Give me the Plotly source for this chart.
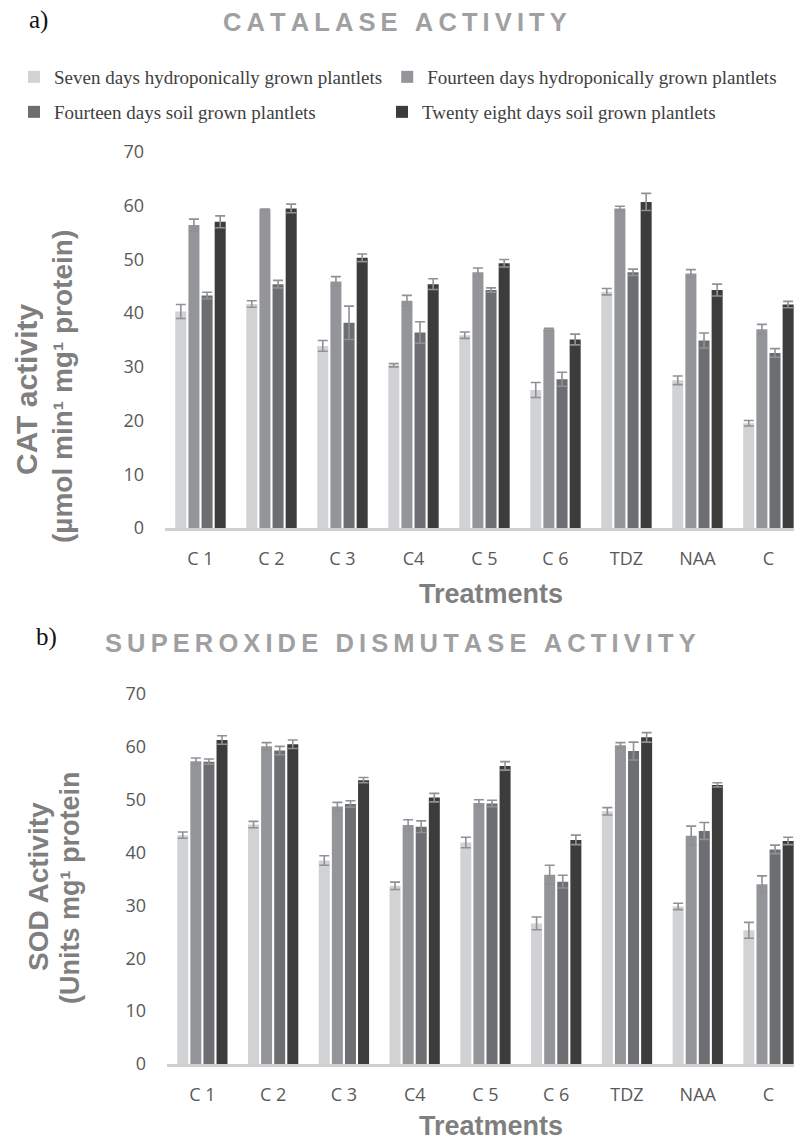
import plotly.graph_objects as go

categories = ["C 1", "C 2", "C 3", "C4", "C 5", "C 6", "TDZ", "NAA", "C"]
series_names = [
    "Seven days hydroponically grown plantlets",
    "Fourteen days hydroponically grown plantlets",
    "Fourteen days soil grown plantlets",
    "Twenty eight days soil grown plantlets",
]
colors = ["#d1d2d4", "#939598", "#6d6e71", "#3c3c3d"]

# Catalase activity (a)
cat_7d_hydro = [40.3, 41.7, 33.9, 30.3, 35.9, 25.7, 44.0, 27.5, 19.5]
cat_14d_hydro = [56.4, 59.3, 45.9, 42.3, 47.6, 37.0, 59.5, 47.4, 37.0]
cat_14d_soil = [43.3, 45.4, 38.2, 36.4, 44.3, 27.7, 47.6, 34.9, 32.6]
cat_28d_soil = [57.0, 59.5, 50.3, 45.4, 49.3, 35.1, 60.7, 44.3, 41.6]
cat_7d_hydro_err = [1.3, 0.6, 1.0, 0.3, 0.6, 1.4, 0.6, 0.8, 0.5]
cat_14d_hydro_err = [1.1, 0.1, 0.9, 1.0, 0.8, 0.2, 0.4, 0.7, 0.9]
cat_14d_soil_err = [0.6, 0.7, 3.1, 2.0, 0.4, 1.3, 0.6, 1.4, 0.8]
cat_28d_soil_err = [1.1, 0.8, 0.7, 1.0, 0.7, 1.0, 1.6, 1.1, 0.6]

# Superoxide dismutase activity (b)
sod_7d_hydro = [43.3, 45.3, 38.5, 33.7, 41.9, 26.6, 47.8, 29.8, 25.3]
sod_14d_hydro = [57.3, 60.1, 48.7, 45.2, 49.4, 35.8, 60.3, 43.2, 34.0]
sod_14d_soil = [57.2, 59.3, 49.2, 44.9, 49.3, 34.5, 59.2, 44.1, 40.6]
sod_28d_soil = [61.3, 60.5, 53.7, 50.4, 56.4, 42.4, 61.8, 52.8, 42.2]
sod_7d_hydro_err = [0.6, 0.6, 0.9, 0.7, 1.0, 1.2, 0.7, 0.6, 1.5]
sod_14d_hydro_err = [0.6, 0.7, 0.8, 1.0, 0.6, 1.8, 0.5, 1.8, 1.6]
sod_14d_soil_err = [0.5, 0.8, 0.6, 1.1, 0.6, 1.2, 1.7, 1.6, 0.8]
sod_28d_soil_err = [0.8, 0.8, 0.5, 0.8, 0.8, 0.9, 0.9, 0.4, 0.7]

y_ticks = [0, 10, 20, 30, 40, 50, 60, 70]

cat_vals = [cat_7d_hydro, cat_14d_hydro, cat_14d_soil, cat_28d_soil]
cat_errs = [cat_7d_hydro_err, cat_14d_hydro_err, cat_14d_soil_err, cat_28d_soil_err]
sod_vals = [sod_7d_hydro, sod_14d_hydro, sod_14d_soil, sod_28d_soil]
sod_errs = [sod_7d_hydro_err, sod_14d_hydro_err, sod_14d_soil_err, sod_28d_soil_err]

W, H = 794, 1140
def px_x(v):
    return v / W
def px_y(v):
    return 1 - v / H

fig = go.Figure()
for i in range(4):
    fig.add_trace(go.Bar(
        x=categories, y=cat_vals[i], name=series_names[i],
        marker=dict(color=colors[i], line=dict(width=0)),
        error_y=dict(type="data", array=cat_errs[i], color="#8f9194", thickness=1.6, width=5),
        xaxis="x", yaxis="y",
        legend="legend" if i < 2 else "legend2",
        showlegend=True,
    ))
for i in range(4):
    fig.add_trace(go.Bar(
        x=categories, y=sod_vals[i], name=series_names[i],
        marker=dict(color=colors[i], line=dict(width=0)),
        error_y=dict(type="data", array=sod_errs[i], color="#8f9194", thickness=1.6, width=5),
        xaxis="x2", yaxis="y2", showlegend=False,
    ))

tick_font_y = dict(family="Open Sans, Arial, sans-serif", size=18, color="#595959")
tick_font_x = dict(family="Liberation Sans Narrow, Arial Narrow, Open Sans, sans-serif", size=18, color="#595959")
xr = [-0.5, 8.36]

common_x = dict(type="category", range=xr, showgrid=False, zeroline=False, showline=True,
                linecolor="#d0d0d0", linewidth=3, ticks="", tickfont=tick_font_x,
                ticklabelstandoff=12, fixedrange=True, automargin=False)
common_y = dict(range=[0, 70], tickvals=y_ticks, showgrid=False, zeroline=False, showline=False,
                ticks="", tickfont=tick_font_y, ticklabelstandoff=20, fixedrange=True, automargin=False)

legend_font = dict(family="Liberation Serif, Times New Roman, serif", size=19, color="#404040")
fig.update_layout(
    width=W, height=H,
    margin=dict(l=0, r=0, t=0, b=0, autoexpand=False),
    paper_bgcolor="white", plot_bgcolor="white",
    barmode="group", bargap=0.26, bargroupgap=0.16,
    xaxis=dict(domain=[px_x(165), 1], anchor="y", **common_x),
    yaxis=dict(domain=[px_y(528), px_y(152)], anchor="x", **common_y),
    xaxis2=dict(domain=[px_x(167), 1], anchor="y2", **common_x),
    yaxis2=dict(domain=[px_y(1064), px_y(694)], anchor="x2", **common_y),
    legend=dict(orientation="h", x=px_x(14), xanchor="left", y=px_y(77), yanchor="middle",
                bgcolor="rgba(0,0,0,0)", font=legend_font,
                itemclick=False, itemdoubleclick=False),
    legend2=dict(orientation="h", x=px_x(14), xanchor="left", y=px_y(112), yanchor="middle",
                 entrywidth=323, entrywidthmode="pixels", bgcolor="rgba(0,0,0,0)",
                 font=legend_font, itemclick=False, itemdoubleclick=False),
)

title_font = dict(family="Liberation Sans, Arial, sans-serif", size=25.5, color="#a0a0a2", weight="bold")
label_font = dict(family="Liberation Serif, Times New Roman, serif", size=25, color="#111111")
axis_title_font = dict(family="Liberation Sans, Arial, sans-serif", size=27, color="#7f7f80", weight="bold")

def spaced(s):
    return "\u2009".join(list(s))

ann = [
    dict(text="a)", x=px_x(38), y=px_y(20), font=label_font),
    dict(text=spaced("CATALASE ACTIVITY"), x=px_x(395), y=px_y(22), font=title_font),
    dict(text="b)", x=px_x(46), y=px_y(637), font=label_font),
    dict(text=spaced("SUPEROXIDE DISMUTASE ACTIVITY"), x=px_x(400), y=px_y(643), font=title_font),
    dict(text="Treatments", x=px_x(491), y=px_y(594), font=axis_title_font),
    dict(text="Treatments", x=px_x(491), y=px_y(1126), font=axis_title_font),
    dict(text="CAT activity", x=px_x(27), y=px_y(390), textangle=-90,
         font=dict(family="Liberation Sans, Arial, sans-serif", size=30, color="#7f7f80", weight="bold")),
    dict(text="(µmol min¹ mg¹ protein)", x=px_x(62), y=px_y(387), textangle=-90,
         font=dict(family="Liberation Sans, Arial, sans-serif", size=28, color="#7f7f80", weight="bold")),
    dict(text="SOD Activity", x=px_x(38), y=px_y(887), textangle=-90,
         font=dict(family="Liberation Sans, Arial, sans-serif", size=28, color="#7f7f80", weight="bold")),
    dict(text="(Units mg¹ protein", x=px_x(70), y=px_y(888), textangle=-90,
         font=dict(family="Liberation Sans, Arial, sans-serif", size=27, color="#7f7f80", weight="bold")),
]
for a in ann:
    a.update(xref="paper", yref="paper", showarrow=False, xanchor="center", yanchor="middle")
fig.update_layout(annotations=ann)

fig.write_html("out.html", config={"displayModeBar": False},
               post_script="document.body.style.margin='0';document.body.style.overflow='hidden';")
